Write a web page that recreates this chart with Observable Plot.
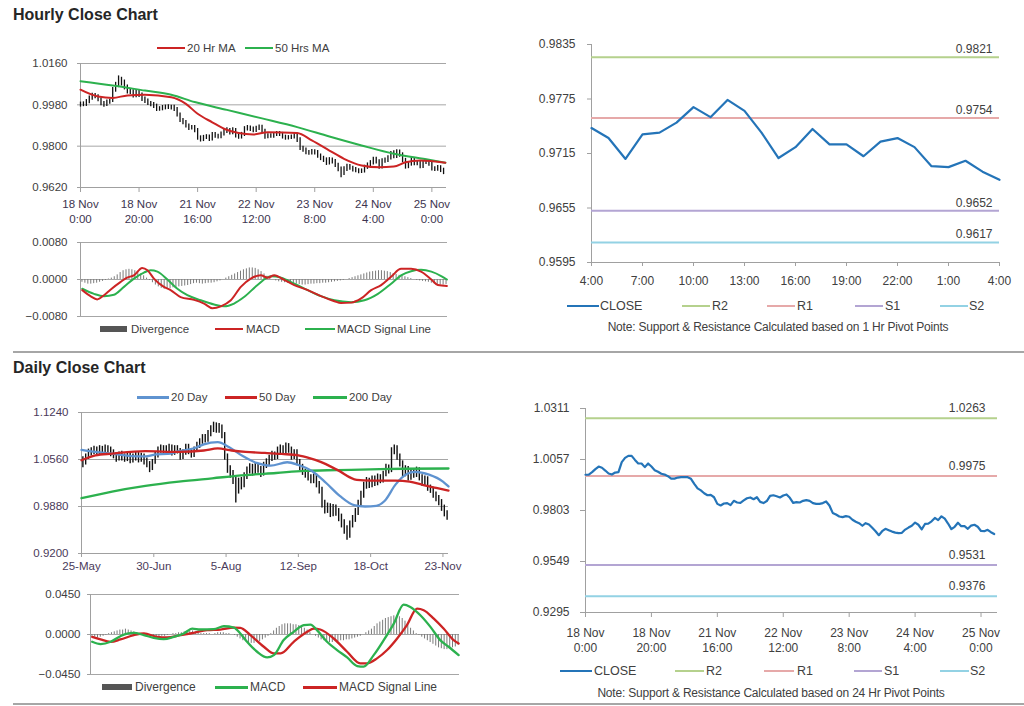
<!DOCTYPE html>
<html><head><meta charset="utf-8">
<script src="https://cdn.jsdelivr.net/npm/d3@7"></script>
<script src="https://cdn.jsdelivr.net/npm/@observablehq/plot@0.6"></script>
<style>
body{margin:0;background:#fff;}
#root{position:relative;width:1024px;height:706px;overflow:hidden;font-family:"Liberation Sans",Arial,sans-serif;color:#404040;background:#fff;}
.title{position:absolute;font-weight:bold;font-size:16px;color:#262626;white-space:nowrap;}
</style></head><body><div id="root"></div>
<script>
// ---------------- DATA ----------------
// Hourly close chart (18 Nov 0:00 .. 25 Nov 4:00, trading hours)
const hourClose = [
0.9981,0.9982,0.9994,1.0009,1.0022,1.0016,1.0002,0.9987,0.9982,0.9992,
0.9994,1.0044,1.0065,1.0075,1.0075,1.0055,1.0037,1.0037,1.0019,1.0037,
1.0022,1.0004,0.9996,0.9986,0.9982,0.9974,0.9962,0.9962,0.9967,0.9969,
0.9969,0.9969,0.9961,0.9936,0.9913,0.9903,0.9889,0.9879,0.9881,0.9869,
0.9836,0.9828,0.9838,0.9840,0.9830,0.9851,0.9843,0.9841,0.9853,0.9864,
0.9868,0.9859,0.9869,0.9846,0.9840,0.9850,0.9876,0.9879,0.9874,0.9868,
0.9878,0.9883,0.9866,0.9841,0.9845,0.9843,0.9851,0.9855,0.9851,0.9840,
0.9836,0.9836,0.9840,0.9848,0.9828,0.9791,0.9783,0.9773,0.9770,0.9775,
0.9772,0.9757,0.9747,0.9740,0.9727,0.9740,0.9733,0.9717,0.9700,0.9680,
0.9700,0.9712,0.9705,0.9698,0.9693,0.9690,0.9692,0.9708,0.9718,0.9727,
0.9743,0.9732,0.9709,0.9736,0.9738,0.9749,0.9766,0.9755,0.9774,0.9762,
0.9738,0.9710,0.9722,0.9742,0.9725,0.9725,0.9712,0.9728,0.9732,0.9722,
0.9701,0.9700,0.9707,0.9695,0.9686];
const hourLow = [
0.9970,0.9972,0.9973,0.9985,1.0000,1.0007,0.9993,0.9976,0.9970,0.9973,
0.9983,0.9990,1.0035,1.0055,1.0062,1.0045,1.0027,1.0025,1.0010,1.0011,
1.0012,0.9995,0.9986,0.9977,0.9972,0.9964,0.9951,0.9952,0.9954,0.9958,
0.9960,0.9957,0.9951,0.9927,0.9903,0.9893,0.9879,0.9868,0.9870,0.9858,
0.9826,0.9818,0.9820,0.9829,0.9820,0.9822,0.9834,0.9831,0.9832,0.9844,
0.9855,0.9849,0.9850,0.9836,0.9830,0.9831,0.9842,0.9866,0.9864,0.9858,
0.9859,0.9868,0.9856,0.9830,0.9832,0.9834,0.9835,0.9842,0.9842,0.9831,
0.9826,0.9827,0.9829,0.9831,0.9816,0.9781,0.9773,0.9763,0.9760,0.9761,
0.9762,0.9747,0.9737,0.9729,0.9716,0.9718,0.9722,0.9707,0.9689,0.9662,
0.9672,0.9690,0.9695,0.9688,0.9684,0.9680,0.9681,0.9683,0.9699,0.9709,
0.9718,0.9722,0.9700,0.9701,0.9726,0.9729,0.9740,0.9745,0.9746,0.9752,
0.9728,0.9700,0.9702,0.9713,0.9715,0.9715,0.9702,0.9703,0.9720,0.9712,
0.9692,0.9690,0.9691,0.9685,0.9676];
const hourHigh = [
0.9992,0.9993,1.0003,1.0018,1.0030,1.0029,1.0024,1.0010,0.9995,1.0001,
1.0004,1.0055,1.0078,1.0106,1.0100,1.0088,1.0066,1.0050,1.0046,1.0047,
1.0045,1.0031,1.0014,1.0005,0.9994,0.9990,0.9983,0.9972,0.9977,0.9979,
0.9980,0.9978,0.9978,0.9968,0.9944,0.9921,0.9912,0.9897,0.9890,0.9890,
0.9877,0.9845,0.9847,0.9850,0.9849,0.9860,0.9860,0.9852,0.9862,0.9873,
0.9880,0.9877,0.9880,0.9877,0.9855,0.9860,0.9885,0.9890,0.9888,0.9883,
0.9887,0.9892,0.9891,0.9874,0.9854,0.9854,0.9860,0.9864,0.9864,0.9860,
0.9848,0.9846,0.9849,0.9858,0.9856,0.9837,0.9800,0.9792,0.9781,0.9785,
0.9784,0.9781,0.9766,0.9756,0.9749,0.9750,0.9748,0.9742,0.9726,0.9709,
0.9710,0.9721,0.9720,0.9713,0.9707,0.9702,0.9701,0.9717,0.9727,0.9737,
0.9752,0.9752,0.9741,0.9745,0.9748,0.9758,0.9777,0.9780,0.9784,0.9783,
0.9771,0.9747,0.9731,0.9751,0.9750,0.9734,0.9734,0.9737,0.9741,0.9740,
0.9730,0.9710,0.9716,0.9715,0.9704];
const ma20Hours = [0,6,11,16,22,31,36,40,45,49,54,59,64,74,79,85,90,96,102,107,111,116,124.6];
const ma20Values = [1.0046,1.0016,1.0010,1.0021,1.0024,1.0013,0.9984,0.9941,0.9904,0.9876,0.9857,0.9851,0.9861,0.9857,0.9825,0.9781,0.9745,0.9716,0.9708,0.9711,0.9730,0.9738,0.9728];
const ma50Hours = [0,11,22,31,39,50,62,74,85,96,107,119,124.6];
const ma50Values = [1.0083,1.0064,1.0042,1.0024,0.9992,0.9958,0.9921,0.9883,0.9842,0.9803,0.9767,0.9741,0.9728];
const weekTickPos = [0,20,40,60,80,100,120];
const weekTickDays = ["18 Nov","18 Nov","21 Nov","22 Nov","23 Nov","24 Nov","25 Nov"];
const weekTickTimes = ["0:00","20:00","16:00","12:00","8:00","4:00","0:00"];
const hourPriceTicks = [0.9620,0.9800,0.9980,1.0160];

// Hourly MACD
const hourDiv = [
-0.0006,-0.0008,-0.0010,-0.0010,-0.0009,-0.0008,-0.0006,-0.0004,-0.0002,0.0001,
0.0003,0.0006,0.0010,0.0015,0.0019,0.0021,0.0022,0.0021,0.0019,0.0016,
0.0012,0.0008,0.0003,-0.0002,-0.0007,-0.0012,-0.0016,-0.0019,-0.0021,-0.0021,
-0.0020,-0.0018,-0.0017,-0.0016,-0.0015,-0.0014,-0.0013,-0.0011,-0.0009,-0.0008,
-0.0009,-0.0010,-0.0009,-0.0008,-0.0008,-0.0007,-0.0005,-0.0003,0.0000,0.0003,
0.0006,0.0009,0.0012,0.0015,0.0018,0.0021,0.0023,0.0025,0.0025,0.0024,
0.0021,0.0017,0.0012,0.0007,0.0003,0.0000,-0.0003,-0.0005,-0.0006,-0.0007,
-0.0008,-0.0009,-0.0010,-0.0010,-0.0011,-0.0012,-0.0012,-0.0011,-0.0010,-0.0010,
-0.0009,-0.0009,-0.0008,-0.0008,-0.0007,-0.0006,-0.0005,-0.0004,-0.0003,-0.0002,
0.0000,0.0002,0.0004,0.0006,0.0008,0.0010,0.0012,0.0014,0.0016,0.0017,
0.0018,0.0019,0.0019,0.0018,0.0017,0.0015,0.0013,0.0011,0.0009,0.0008,
0.0006,0.0004,0.0002,0.0000,-0.0002,-0.0003,-0.0004,-0.0005,-0.0006,-0.0008,
-0.0010,-0.0011,-0.0012,-0.0012,-0.0011];
const hourMacdX = [0.6,3.4,5.7,8,10.2,13.7,15.9,18.2,21,22.8,25,28.4,30.7,34.1,38.7,42.1,44.9,47.8,51.2,54.6,58,61.4,63.7,66,69.4,72.8,77.4,81.9,86.5,88.7,92.2,95.6,99,102.4,105.8,109.2,112.6,116,119.5,121.7,124.8];
const hourMacd = [-0.0023,-0.0036,-0.0043,-0.0034,-0.0022,-0.0005,0.0004,0.0009,0.0025,0.0020,0.0002,-0.0016,-0.0023,-0.0038,-0.0044,-0.0052,-0.0062,-0.0058,-0.0045,-0.0016,0.0002,0.0009,0.0004,0.0009,-0.0001,-0.0012,-0.0023,-0.0036,-0.0047,-0.0051,-0.0050,-0.0041,-0.0023,-0.0012,0.0006,0.0023,0.0023,0.0017,0.0000,-0.0012,-0.0014];
const hourSignalX = [0.6,4.6,8,11.4,14.8,18.2,21.6,23.9,26.2,29.6,33,36.4,41,45.5,48.9,52.3,55.7,60.3,64.8,68.3,72.8,77.4,81.9,86.5,92.2,96.7,101.3,105.8,109.2,112.6,116,119.5,123,124.8];
const hourSignal = [-0.0020,-0.0031,-0.0036,-0.0033,-0.0016,0.0002,0.0015,0.0020,0.0017,0.0000,-0.0020,-0.0034,-0.0045,-0.0054,-0.0058,-0.0052,-0.0038,-0.0012,0.0007,0.0004,-0.0009,-0.0023,-0.0036,-0.0045,-0.0049,-0.0045,-0.0031,-0.0009,0.0009,0.0018,0.0021,0.0017,0.0007,0.0000];
const hourMacdTicks = [-0.0080,0.0000,0.0080];

// Pivot (1 Hr) chart
const pivotHourClose = [0.9743,0.9732,0.9709,0.9736,0.9738,0.9749,0.9766,0.9755,0.9774,0.9762,0.9738,0.9710,0.9722,0.9742,0.9725,0.9725,0.9712,0.9728,0.9732,0.9722,0.9701,0.9700,0.9707,0.9695,0.9686];
const pivotHourTickPos = [0,3,6,9,12,15,18,21,24];
const pivotHourTickLabels = ["4:00","7:00","10:00","13:00","16:00","19:00","22:00","1:00","4:00"];
const pivotHourTicks = [0.9595,0.9655,0.9715,0.9775,0.9835];
const levelNames = ["R2","R1","S1","S2"];
const pivotHourLevels = [0.9821,0.9754,0.9652,0.9617];
const pivotDayLevels = [1.0263,0.9975,0.9531,0.9376];
const pivotDayTicks = [0.9295,0.9549,0.9803,1.0057,1.0311];

// Daily close chart (25 May .. 25 Nov, trading days)
const dailyClose = [
1.052,1.060,1.066,1.068,1.070,1.066,1.071,1.068,1.072,1.070,
1.066,1.062,1.058,1.063,1.060,1.058,1.061,1.056,1.059,1.062,
1.057,1.060,1.054,1.049,1.043,1.052,1.062,1.070,1.072,1.068,
1.071,1.073,1.066,1.072,1.069,1.060,1.066,1.074,1.068,1.063,
1.070,1.077,1.082,1.088,1.085,1.093,1.100,1.105,1.099,1.103,
1.092,1.060,1.042,1.035,1.027,1.012,1.025,1.020,1.032,1.040,
1.045,1.038,1.046,1.042,1.036,1.048,1.052,1.058,1.063,1.060,
1.069,1.072,1.067,1.075,1.070,1.060,1.066,1.052,1.045,1.038,
1.034,1.030,1.026,1.031,1.020,1.012,0.992,0.984,0.988,0.978,
0.986,0.980,0.972,0.964,0.955,0.946,0.962,0.970,0.980,0.992,
1.005,1.018,1.025,1.020,1.028,1.022,1.030,1.026,1.035,1.044,
1.040,1.068,1.074,1.060,1.050,1.036,1.042,1.030,1.038,1.034,
1.040,1.030,1.022,1.028,1.015,1.012,1.005,1.000,0.994,0.986,
0.978,0.973];
const dailyLow = [
1.044,1.048,1.056,1.061,1.063,1.061,1.062,1.063,1.064,1.065,
1.060,1.057,1.052,1.054,1.054,1.052,1.053,1.050,1.051,1.054,
1.051,1.052,1.048,1.044,1.037,1.040,1.049,1.058,1.065,1.063,
1.064,1.066,1.061,1.062,1.064,1.055,1.056,1.062,1.063,1.058,
1.059,1.066,1.072,1.078,1.080,1.081,1.089,1.095,1.094,1.094,
1.086,1.055,1.036,1.029,1.020,0.993,1.006,1.012,1.015,1.027,
1.035,1.032,1.033,1.036,1.030,1.032,1.043,1.047,1.053,1.055,
1.056,1.064,1.062,1.063,1.065,1.055,1.056,1.047,1.040,1.033,
1.029,1.025,1.021,1.021,1.015,1.006,0.986,0.977,0.978,0.972,
0.973,0.974,0.966,0.957,0.948,0.939,0.942,0.957,0.965,0.975,
0.987,1.000,1.013,1.014,1.015,1.017,1.018,1.021,1.022,1.031,
1.035,1.037,1.063,1.055,1.045,1.031,1.031,1.025,1.026,1.029,
1.030,1.025,1.017,1.018,1.010,1.007,1.000,0.995,0.989,0.981,
0.973,0.968];
const dailyHigh = [
1.060,1.064,1.071,1.073,1.075,1.074,1.076,1.075,1.077,1.076,
1.074,1.070,1.066,1.067,1.068,1.064,1.066,1.065,1.064,1.067,
1.066,1.065,1.064,1.058,1.053,1.056,1.066,1.074,1.077,1.076,
1.076,1.078,1.077,1.076,1.076,1.072,1.070,1.078,1.078,1.072,
1.074,1.081,1.086,1.092,1.092,1.098,1.105,1.110,1.109,1.108,
1.106,1.095,1.064,1.047,1.040,1.031,1.029,1.030,1.037,1.045,
1.050,1.049,1.051,1.050,1.046,1.052,1.057,1.062,1.068,1.067,
1.074,1.077,1.076,1.080,1.079,1.074,1.070,1.070,1.056,1.049,
1.042,1.038,1.034,1.035,1.035,1.024,1.016,0.997,0.993,0.992,
0.991,0.990,0.985,0.977,0.969,0.960,0.967,0.975,0.985,0.997,
1.010,1.023,1.030,1.029,1.032,1.032,1.035,1.034,1.039,1.049,
1.048,1.073,1.077,1.076,1.064,1.054,1.047,1.046,1.042,1.042,
1.045,1.044,1.034,1.032,1.031,1.019,1.016,1.009,1.004,0.998,
0.990,0.982];
const ma20DayX = [0,5,11,18,23,27,31,35,41,44,49,53,58,63,68,74,78,83,88,93,98,102,106,109,113,117,120,125,130,132];
const ma20DayValues = [1.070,1.067,1.0645,1.061,1.0605,1.0635,1.064,1.068,1.073,1.078,1.081,1.074,1.061,1.051,1.047,1.052,1.048,1.039,1.022,1.003,0.990,0.988,0.989,0.996,1.020,1.035,1.038,1.034,1.024,1.017];
const ma50DayX = [0,5,11,23,35,44,49,54,59,66,72,78,82,86,92,99,104,113,118,123,128,132];
const ma50DayValues = [1.055,1.062,1.0645,1.068,1.067,1.069,1.072,1.069,1.067,1.0655,1.064,1.062,1.058,1.0525,1.041,1.0265,1.0255,1.0255,1.024,1.019,1.0145,1.011];
const ma200DayX = [0,11,23,35,47,59,70,80,92,104,116,132];
const ma200DayValues = [1.000,1.0096,1.0178,1.024,1.0288,1.0335,1.0365,1.0395,1.0407,1.0417,1.0426,1.043];
const dayTickPos = [0,26,52,78,104,130];
const dayTickLabels = ["25-May","30-Jun","5-Aug","12-Sep","18-Oct","23-Nov"];
const dayPriceTicks = [0.9200,0.9880,1.0560,1.1240];

// Daily MACD
const dailyDiv = [
-0.002,-0.003,-0.004,-0.003,-0.002,-0.001,0.001,0.002,0.003,0.004,
0.005,0.005,0.006,0.005,0.004,0.003,0.002,0.001,0.000,-0.001,
-0.001,-0.002,-0.002,-0.003,-0.003,-0.002,-0.002,-0.001,0.000,0.001,
0.001,0.002,0.002,0.003,0.003,0.004,0.004,0.003,0.002,0.001,
0.001,0.001,0.001,0.000,0.001,0.002,0.002,0.002,0.001,0.001,
0.000,-0.001,-0.003,-0.005,-0.007,-0.008,-0.009,-0.010,-0.010,-0.009,
-0.008,-0.006,-0.004,-0.002,0.001,0.004,0.007,0.009,0.011,0.012,
0.012,0.012,0.011,0.011,0.010,0.009,0.007,0.005,0.002,0.000,
-0.002,-0.004,-0.006,-0.007,-0.008,-0.009,-0.009,-0.008,-0.008,-0.007,
-0.007,-0.006,-0.006,-0.005,-0.004,-0.003,-0.002,0.000,0.002,0.004,
0.006,0.009,0.012,0.014,0.016,0.018,0.019,0.020,0.021,0.021,
0.020,0.018,0.015,0.011,0.007,0.004,0.001,-0.001,-0.003,-0.005,
-0.007,-0.009,-0.011,-0.013,-0.015,-0.016,-0.017,-0.017,-0.016,-0.015,
-0.014,-0.012];
const dailyMacdX = [0.6,3.6,7.2,10.7,13.1,15.5,19.1,22.6,26.2,29.8,33.4,36.4,39.3,44.1,47.7,51.3,53.6,56,59.6,63.2,65.6,69.1,72.7,76.3,78.7,81,84.6,88.2,91.8,95.4,97.7,101.3,104.9,108.5,112,114.4,118,121.6,125.1,128.1,131.7];
const dailyMacd = [-0.0082,-0.0108,-0.0082,-0.0019,0.0011,0.0019,-0.0007,-0.0037,-0.0052,-0.0026,0.0011,0.0067,0.0056,0.0060,0.0093,0.0078,0.0011,-0.0082,-0.0194,-0.0258,-0.0232,-0.0063,0.0030,0.0105,0.0112,0.0049,-0.0082,-0.0175,-0.0258,-0.0355,-0.0362,-0.0232,-0.0063,0.0123,0.0336,0.0310,0.0217,0.0086,-0.0063,-0.0138,-0.0232];
const dailySignalX = [0.6,3.6,7.2,10.7,15.5,19.1,23.8,27.4,32.2,36.9,41.7,46.5,51.3,53.6,57.2,62,65.6,68,72.7,77.5,79.9,82.2,87,91.8,96.5,98.9,102.5,106.1,109.7,113.2,116.8,119.2,122.8,126.3,129.9,131.7];
const dailySignal = [-0.0026,-0.0056,-0.0082,-0.0056,-0.0007,0.0011,-0.0026,-0.0034,-0.0007,0.0019,0.0049,0.0056,0.0078,0.0075,-0.0007,-0.0138,-0.0213,-0.0213,-0.0082,0.0030,0.0067,0.0056,-0.0045,-0.0194,-0.0325,-0.0325,-0.0269,-0.0175,-0.0045,0.0105,0.0291,0.0273,0.0179,0.0067,-0.0063,-0.0101];
const dayMacdTicks = [-0.0450,0.0000,0.0450];

// ---------------- STYLE ----------------
const FONT = "'Liberation Sans', Arial, sans-serif";
const AX = "#a0a0a0", GRID = "#a6a6a6", TXT = "#404040";
const RED = "#cc2424", GREEN = "#2cb14e", BLUE = "#5f93d0", CLOSEC = "#2474b8";
const levelColors = ["#b5d18d", "#e6a9a9", "#b3a5d3", "#93d2e4"];
const fmt4 = d3.format(".4f");
const root = document.getElementById("root");

function put(svg, left, top) {
  svg.style.position = "absolute";
  svg.style.left = left + "px";
  svg.style.top = top + "px";
  svg.style.overflow = "visible";
  svg.style.maxWidth = "none";
  root.appendChild(svg);
}
function div(css, text, cls) {
  const d = document.createElement("div");
  d.style.cssText = css;
  if (cls) d.className = cls;
  if (text != null) d.textContent = text;
  root.appendChild(d);
  return d;
}
function legend(kind, color, x, y, w, label, tx, fs = 11.5, thick = 2) {
  if (kind === "box") div(`position:absolute;left:${x}px;top:${y - 3}px;width:${w}px;height:6px;background:${color}`);
  else div(`position:absolute;left:${x}px;top:${y - thick / 2}px;width:${w}px;height:${thick}px;background:${color}`);
  div(`position:absolute;left:${tx}px;top:${y - 8}px;font-size:${fs}px;line-height:16px;white-space:nowrap;color:${TXT}`, label);
}
const idx = n => d3.range(n);
const baseStyle = fs => ({fontFamily: FONT, fontSize: fs + "px", color: TXT, background: "transparent", overflow: "visible"});

// titles and separators
div("left:13px;top:6px;", "Hourly Close Chart", "title");
div("left:13px;top:359px;", "Daily Close Chart", "title");
div("position:absolute;left:13px;top:351px;width:1011px;height:2px;background:#a6a6a6");
div("position:absolute;left:13px;top:703px;width:1011px;height:2px;background:#a6a6a6");

// ---------- Panel 1: hourly price ----------
put(Plot.plot({
  width: 460, height: 190, marginLeft: 80, marginRight: 14, marginTop: 23, marginBottom: 43,
  style: baseStyle(11.5),
  x: {domain: [0, 125], label: null},
  y: {domain: [0.962, 1.016], label: null},
  marks: [
    Plot.gridY(hourPriceTicks.slice(1), {stroke: GRID, strokeOpacity: 1}),
    Plot.ruleY([0.962], {stroke: AX}),
    Plot.ruleX([0], {stroke: AX}),
    Plot.axisY(hourPriceTicks, {tickFormat: fmt4, tickSize: 3, tickPadding: 10, stroke: AX, fill: TXT, label: null}),
    Plot.axisX(weekTickPos, {tickFormat: () => "", tickSize: 5, stroke: AX, label: null}),
    Plot.text(weekTickPos, {x: d => d, frameAnchor: "bottom", dy: 20, text: (d, i) => weekTickDays[i], fill: "#3d3550"}),
    Plot.text(weekTickPos, {x: d => d, frameAnchor: "bottom", dy: 35, text: (d, i) => weekTickTimes[i], fill: "#3d3550"}),
    Plot.ruleX(idx(hourClose.length), {x: i => i, y1: i => hourLow[i], y2: i => hourHigh[i], stroke: "#111", strokeWidth: 1.3}),
    Plot.line(idx(ma50Hours.length), {x: i => ma50Hours[i], y: i => ma50Values[i], stroke: GREEN, strokeWidth: 2, curve: "monotone-x"}),
    Plot.line(idx(ma20Hours.length), {x: i => ma20Hours[i], y: i => ma20Values[i], stroke: RED, strokeWidth: 2, curve: "monotone-x"})
  ]
}), 0, 40);
legend("line", RED, 157, 48, 28, "20 Hr MA", 187);
legend("line", GREEN, 245, 48, 28, "50 Hrs MA", 275);

// ---------- Panel 2: hourly MACD ----------
put(Plot.plot({
  width: 460, height: 90, marginLeft: 80, marginRight: 13, marginTop: 10, marginBottom: 6,
  style: baseStyle(11.5),
  x: {domain: [0, 125], axis: null},
  y: {domain: [-0.008, 0.008], label: null},
  marks: [
    Plot.gridY(hourMacdTicks, {stroke: GRID, strokeOpacity: 1}),
    Plot.ruleX([0], {stroke: AX}),
    Plot.axisY(hourMacdTicks, {tickFormat: fmt4, tickSize: 3, tickPadding: 10, stroke: AX, fill: TXT, label: null}),
    Plot.ruleX(idx(hourDiv.length), {x: i => i + 0.5, y1: 0, y2: i => hourDiv[i], stroke: "#7a7a7a", strokeWidth: 1}),
    Plot.line(idx(hourSignalX.length), {x: i => hourSignalX[i], y: i => hourSignal[i], stroke: GREEN, strokeWidth: 2, curve: "monotone-x"}),
    Plot.line(idx(hourMacdX.length), {x: i => hourMacdX[i], y: i => hourMacd[i], stroke: RED, strokeWidth: 2, curve: "monotone-x"})
  ]
}), 0, 232);
legend("box", "#555", 100, 329, 27, "Divergence", 131);
legend("line", RED, 215, 329, 28, "MACD", 246);
legend("line", GREEN, 305, 329, 30, "MACD Signal Line", 337);

// ---------- Panel 3: 1 Hr pivot ----------
const hourLevelData = idx(4).map(i => ({name: levelNames[i], v: pivotHourLevels[i], c: levelColors[i]}));
put(Plot.plot({
  width: 512, height: 270, marginLeft: 79, marginRight: 25, marginTop: 14, marginBottom: 38,
  style: baseStyle(12),
  x: {domain: [0, 24], label: null},
  y: {domain: [0.9595, 0.9835], label: null},
  marks: [
    Plot.ruleX([0], {stroke: AX}),
    Plot.ruleY([0.9595], {stroke: AX}),
    Plot.axisY(pivotHourTicks, {tickFormat: fmt4, tickSize: 4, tickPadding: 12, stroke: AX, fill: TXT, label: null}),
    Plot.axisX(pivotHourTickPos, {tickFormat: d => pivotHourTickLabels[pivotHourTickPos.indexOf(d)], tickSize: 4, tickPadding: 10, stroke: AX, fill: TXT, label: null}),
    Plot.ruleY(hourLevelData, {y: "v", stroke: "c", strokeWidth: 2}),
    Plot.text(hourLevelData, {x: 24, y: "v", text: d => fmt4(d.v), textAnchor: "end", dx: -7, dy: -8, fill: TXT}),
    Plot.line(pivotHourClose, {x: (d, i) => i, y: d => d, stroke: CLOSEC, strokeWidth: 2.2})
  ]
}), 512, 30);
legend("line", CLOSEC, 567, 306, 32, "CLOSE", 600, 12.5, 2);
legend("line", levelColors[0], 682, 306, 28, "R2", 712, 12.5, 1.5);
legend("line", levelColors[1], 767, 306, 28, "R1", 797, 12.5, 1.5);
legend("line", levelColors[2], 855, 306, 28, "S1", 885, 12.5, 1.5);
legend("line", levelColors[3], 940, 306, 28, "S2", 969, 12.5, 1.5);
div(`position:absolute;left:512px;top:320px;width:532px;text-align:center;font-size:12px;letter-spacing:-0.2px;color:${TXT};white-space:nowrap`, "Note: Support & Resistance Calculated based on 1 Hr Pivot Points");

// ---------- Panel 4: 24 Hr pivot ----------
const dayLevelData = idx(4).map(i => ({name: levelNames[i], v: pivotDayLevels[i], c: levelColors[i]}));
put(Plot.plot({
  width: 512, height: 260, marginLeft: 73, marginRight: 27, marginTop: 13, marginBottom: 43,
  style: baseStyle(12),
  x: {domain: [0, 125], label: null},
  y: {domain: [0.9295, 1.0311], label: null},
  marks: [
    Plot.ruleX([0], {stroke: AX}),
    Plot.ruleY([0.9295], {stroke: AX}),
    Plot.axisY(pivotDayTicks, {tickFormat: fmt4, tickSize: 5, tickPadding: 11, stroke: AX, fill: TXT, label: null}),
    Plot.axisX(weekTickPos, {tickFormat: () => "", tickSize: 5, stroke: AX, label: null}),
    Plot.text(weekTickPos, {x: d => d, frameAnchor: "bottom", dy: 24, text: (d, i) => weekTickDays[i], fill: TXT}),
    Plot.text(weekTickPos, {x: d => d, frameAnchor: "bottom", dy: 39, text: (d, i) => weekTickTimes[i], fill: TXT}),
    Plot.ruleY(dayLevelData, {y: "v", stroke: "c", strokeWidth: 2}),
    Plot.text(dayLevelData, {x: 125, y: "v", text: d => fmt4(d.v), textAnchor: "end", dx: -12, dy: -10, fill: TXT}),
    Plot.line(hourClose, {x: (d, i) => i, y: d => d, stroke: CLOSEC, strokeWidth: 2.2})
  ]
}), 512, 395);
legend("line", CLOSEC, 560, 671, 32, "CLOSE", 594, 12.5, 2);
legend("line", levelColors[0], 675, 671, 29, "R2", 706, 12.5, 1.5);
legend("line", levelColors[1], 764, 671, 30, "R1", 797, 12.5, 1.5);
legend("line", levelColors[2], 854, 671, 28, "S1", 884, 12.5, 1.5);
legend("line", levelColors[3], 940, 671, 29, "S2", 970, 12.5, 1.5);
div(`position:absolute;left:512px;top:686px;width:518px;text-align:center;font-size:12px;letter-spacing:-0.2px;color:${TXT};white-space:nowrap`, "Note: Support & Resistance Calculated based on 24 Hr Pivot Points");

// ---------- Panel 5: daily price ----------
put(Plot.plot({
  width: 460, height: 175, marginLeft: 81, marginRight: 12, marginTop: 12, marginBottom: 22,
  style: baseStyle(11.5),
  x: {domain: [0, 132], label: null},
  y: {domain: [0.92, 1.124], label: null},
  marks: [
    Plot.gridY(dayPriceTicks.slice(1), {stroke: GRID, strokeOpacity: 1}),
    Plot.ruleY([0.92], {stroke: AX}),
    Plot.ruleX([0], {stroke: AX}),
    Plot.axisY(dayPriceTicks, {tickFormat: fmt4, tickSize: 3, tickPadding: 10, stroke: AX, fill: "#4a3a5a", label: null}),
    Plot.axisX(dayTickPos, {tickFormat: d => dayTickLabels[dayTickPos.indexOf(d)], tickSize: 4, tickPadding: 4, stroke: AX, fill: "#4a3a5a", label: null}),
    Plot.ruleX(idx(dailyClose.length), {x: i => i + 0.5, y1: i => dailyLow[i], y2: i => dailyHigh[i], stroke: "#111", strokeWidth: 1.4}),
    Plot.line(idx(ma200DayX.length), {x: i => ma200DayX[i], y: i => ma200DayValues[i], stroke: GREEN, strokeWidth: 2.3, curve: "monotone-x"}),
    Plot.line(idx(ma20DayX.length), {x: i => ma20DayX[i], y: i => ma20DayValues[i], stroke: BLUE, strokeWidth: 2.3, curve: "monotone-x"}),
    Plot.line(idx(ma50DayX.length), {x: i => ma50DayX[i], y: i => ma50DayValues[i], stroke: RED, strokeWidth: 2.3, curve: "monotone-x"})
  ]
}), 0, 400);
legend("line", BLUE, 137, 397, 32, "20 Day", 171, 11.5, 3);
legend("line", RED, 225, 397, 32, "50 Day", 259, 11.5, 3);
legend("line", GREEN, 313, 397, 34, "200 Day", 349, 11.5, 3);

// ---------- Panel 6: daily MACD ----------
put(Plot.plot({
  width: 470, height: 95, marginLeft: 90, marginRight: 11, marginTop: 9, marginBottom: 6,
  style: baseStyle(11.5),
  x: {domain: [0, 132], axis: null},
  y: {domain: [-0.045, 0.045], label: null},
  marks: [
    Plot.gridY(dayMacdTicks, {stroke: GRID, strokeOpacity: 1}),
    Plot.ruleX([0], {stroke: AX}),
    Plot.axisY(dayMacdTicks, {tickFormat: fmt4, tickSize: 3, tickPadding: 7, stroke: AX, fill: TXT, label: null}),
    Plot.ruleX(idx(dailyDiv.length), {x: i => i + 0.5, y1: 0, y2: i => dailyDiv[i], stroke: "#7a7a7a", strokeWidth: 1}),
    Plot.line(idx(dailySignalX.length), {x: i => dailySignalX[i], y: i => dailySignal[i], stroke: RED, strokeWidth: 2.3, curve: "monotone-x"}),
    Plot.line(idx(dailyMacdX.length), {x: i => dailyMacdX[i], y: i => dailyMacd[i], stroke: GREEN, strokeWidth: 2.3, curve: "monotone-x"})
  ]
}), 0, 585);
legend("box", "#555", 102, 687, 30, "Divergence", 135, 12);
legend("line", GREEN, 215, 687, 33, "MACD", 250, 12, 3);
legend("line", RED, 303, 687, 34, "MACD Signal Line", 339, 12, 3);
</script></body></html>
